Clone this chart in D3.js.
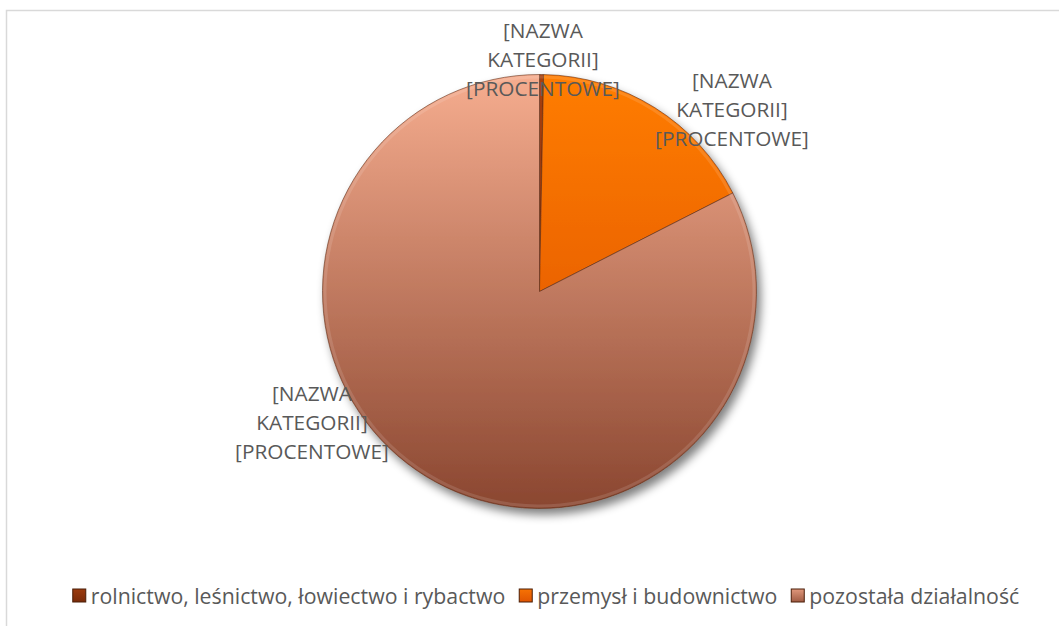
<!DOCTYPE html>
<html>
<head>
<meta charset="utf-8">
<script src="https://cdn.jsdelivr.net/npm/d3@7/dist/d3.min.js"></script>
<style>
  html, body { margin: 0; padding: 0; background: #fff; }
  svg { display: block; }
</style>
</head>
<body>
<svg id="chart" width="1059" height="626"></svg>
<script>
// data
const categories = ["rolnictwo, leśnictwo, łowiectwo i rybactwo", "przemysł i budownictwo", "pozostała działalność"];
const shares = [0.3, 17.2, 82.5];
const labelText = ["[NAZWA", "KATEGORII]", "[PROCENTOWE]"];

// kolory: [jasny, ciemny]
const sliceColors = [["#a8400f", "#6e2608"], ["#ff7d05", "#d84a00"], ["#f6ad8f", "#8a4630"]];

const width = 1059, height = 626;
const cx = 539.5, cy = 291.5, radius = 217;
// pozycje etykiet wzgledem srodka (best fit jak w Excelu)
const labelOffsets = [[3.5, -232], [192.5, -182], [-227.5, 131]];
const lineH = 29;
const font = "'Open Sans', Lato, sans-serif";

const svg = d3.select("#chart");
const defs = svg.append("defs");

// frame
svg.append("rect").attr("x", 6.5).attr("y", 10.5).attr("width", width).attr("height", height)
  .attr("fill", "none").attr("stroke", "#d9d9d9").attr("stroke-width", 1.5);

const shadow = defs.append("filter").attr("id", "shadow").attr("x", "-20%").attr("y", "-20%").attr("width", "140%").attr("height", "140%");
shadow.append("feGaussianBlur").attr("in", "SourceAlpha").attr("stdDeviation", 5).attr("result", "b");
shadow.append("feOffset").attr("in", "b").attr("dx", 4).attr("dy", 6).attr("result", "o");
shadow.append("feComponentTransfer").attr("in", "o").attr("result", "s")
  .append("feFuncA").attr("type", "linear").attr("slope", 0.5);
const m = shadow.append("feMerge");
m.append("feMergeNode").attr("in", "s");
m.append("feMergeNode").attr("in", "SourceGraphic");

sliceColors.forEach((c, i) => {
  const g = defs.append("linearGradient").attr("id", "grad" + i)
    .attr("gradientUnits", "userSpaceOnUse")
    .attr("x1", 0).attr("y1", -radius).attr("x2", 0).attr("y2", radius);
  g.append("stop").attr("offset", "0%").attr("stop-color", c[0]);
  g.append("stop").attr("offset", "100%").attr("stop-color", c[1]);
  const lg = defs.append("linearGradient").attr("id", "lgrad" + i)
    .attr("x1", 0).attr("y1", 0).attr("x2", 0).attr("y2", 1);
  lg.append("stop").attr("offset", "0%").attr("stop-color", d3.interpolateRgb(c[0], c[1])(0.2));
  lg.append("stop").attr("offset", "100%").attr("stop-color", d3.interpolateRgb(c[0], c[1])(0.8));
});

const pie = d3.pie().sort(null).value(d => d);
const arcs = pie(shares);
const arc = d3.arc().innerRadius(0).outerRadius(radius);

const g = svg.append("g").attr("transform", `translate(${cx},${cy})`);
const pg = g.append("g").attr("filter", "url(#shadow)");
pg.selectAll("path.slice").data(arcs).enter().append("path")
  .attr("class", "slice")
  .attr("d", arc)
  .attr("fill", (d, i) => `url(#grad${i})`)
  .attr("stroke", "#5a2a14").attr("stroke-width", 0.8).attr("stroke-opacity", 0.7);

// bevel highlight on outer edge
const rim = d3.arc().innerRadius(radius - 4).outerRadius(radius - 1);
g.selectAll("path.rim").data(arcs).enter().append("path")
  .attr("class", "rim")
  .attr("d", rim)
  .attr("fill", "#fff").attr("fill-opacity", 0.12);

// labels
const lab = g.selectAll("text.lab").data(arcs).enter().append("text")
  .attr("class", "lab")
  .attr("text-anchor", "middle")
  .attr("font-family", font)
  .attr("font-size", 20.8)
  .attr("fill", "#595959")
  .attr("transform", (d, i) => `translate(${labelOffsets[i][0]},${labelOffsets[i][1]})`);
lab.selectAll("tspan").data(labelText).enter().append("tspan")
  .attr("x", 0).attr("y", (t, j) => (j - 1) * lineH + 7.5)
  .text(t => t);

// legend
const legend = svg.append("g").attr("transform", "translate(0,597)");
const items = legend.selectAll("g").data(categories).enter().append("g");
items.append("rect").attr("y", -8).attr("width", 13).attr("height", 13)
  .attr("fill", (d, i) => `url(#lgrad${i})`).attr("stroke", "#4a1e08").attr("stroke-width", 1);
items.append("text").attr("x", 18).attr("y", 7)
  .attr("font-family", font)
  .attr("font-size", 21.3).attr("fill", "#595959")
  .text(d => d);
// layout centred
let xs = [], x = 0;
items.each(function() {
  const w = this.getBBox().width;
  xs.push(x); x += w + 14;
});
const total = x - 14;
const x0 = 546 - total / 2;
items.attr("transform", (d, i) => `translate(${x0 + xs[i]},0)`);
</script>
</body>
</html>
